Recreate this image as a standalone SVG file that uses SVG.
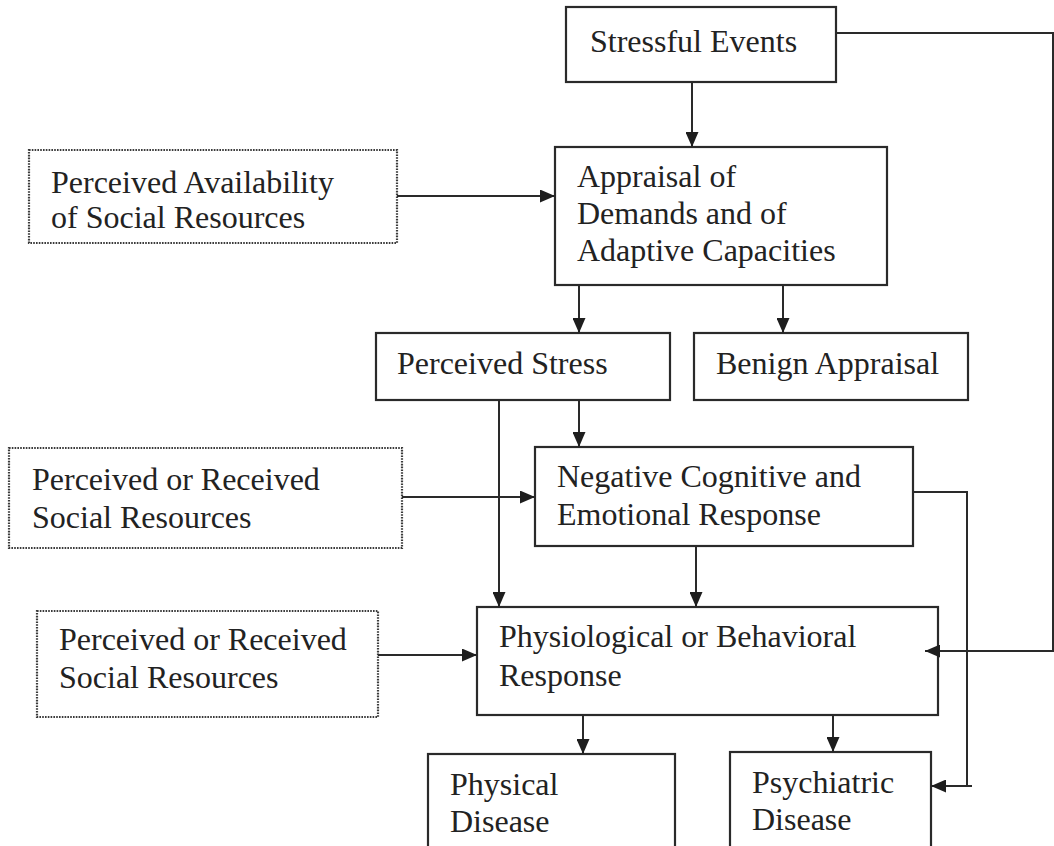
<svg xmlns="http://www.w3.org/2000/svg" width="1054" height="846" viewBox="0 0 1054 846">
<defs>
<style>
.box{fill:#fff;stroke:#2a2a2a;stroke-width:2.2}
.dot{fill:#fff;stroke:#3a3a3a;stroke-width:2.2;stroke-dasharray:1.6 1.2}
.t{font-family:"Liberation Serif","Times New Roman",serif;font-size:32px;fill:#222}
.c{fill:none;stroke:#2a2a2a;stroke-width:2}
</style>
<marker id="ah" viewBox="0 0 15 13" refX="15" refY="6.5" markerWidth="15" markerHeight="13" markerUnits="userSpaceOnUse" orient="auto">
<path d="M0,0 L15,6.5 L0,13 Z" fill="#1e1e1e"/>
</marker>
</defs>
<rect width="1054" height="846" fill="#fff"/>
<g id="stressful-events">
<rect class="box" x="566" y="7" width="270" height="75"/>
<text class="t" x="590" y="52">Stressful Events</text>
</g>
<g id="appraisal">
<rect class="box" x="555" y="147" width="332" height="138"/>
<text class="t" x="577" y="187">Appraisal of</text>
<text class="t" x="577" y="224">Demands and of</text>
<text class="t" x="577" y="261">Adaptive Capacities</text>
</g>
<g id="perceived-availability">
<rect class="dot" x="29" y="150" width="368" height="93"/>
<text class="t" x="51" y="193">Perceived Availability</text>
<text class="t" x="51" y="228">of Social Resources</text>
</g>
<g id="perceived-stress">
<rect class="box" x="376" y="333" width="294" height="67"/>
<text class="t" x="397" y="374">Perceived Stress</text>
</g>
<g id="benign-appraisal">
<rect class="box" x="694" y="333" width="274" height="67"/>
<text class="t" x="716" y="374">Benign Appraisal</text>
</g>
<g id="social-resources-1">
<rect class="dot" x="9" y="448" width="393" height="100"/>
<text class="t" x="32" y="490">Perceived or Received</text>
<text class="t" x="32" y="528">Social Resources</text>
</g>
<g id="negative-response">
<rect class="box" x="535" y="447" width="378" height="99"/>
<text class="t" x="557" y="487">Negative Cognitive and</text>
<text class="t" x="557" y="525">Emotional Response</text>
</g>
<g id="social-resources-2">
<rect class="dot" x="37" y="611" width="341" height="106"/>
<text class="t" x="59" y="650">Perceived or Received</text>
<text class="t" x="59" y="688">Social Resources</text>
</g>
<g id="physiological-response">
<rect class="box" x="477" y="607" width="461" height="108"/>
<text class="t" x="499" y="647">Physiological or Behavioral</text>
<text class="t" x="499" y="686">Response</text>
</g>
<g id="physical-disease">
<rect class="box" x="428" y="754" width="247" height="100"/>
<text class="t" x="450" y="795">Physical</text>
<text class="t" x="450" y="832">Disease</text>
</g>
<g id="psychiatric-disease">
<rect class="box" x="730" y="752" width="201" height="100"/>
<text class="t" x="752" y="793">Psychiatric</text>
<text class="t" x="752" y="830">Disease</text>
</g>
<g id="connectors">
<path class="c" d="M692,82 V147" marker-end="url(#ah)"/>
<path class="c" d="M836,33 H1053 V651 H925" marker-end="url(#ah)"/>
<path class="c" d="M397,196 H555" marker-end="url(#ah)"/>
<path class="c" d="M579,285 V333" marker-end="url(#ah)"/>
<path class="c" d="M783,285 V333" marker-end="url(#ah)"/>
<path class="c" d="M579,400 V447" marker-end="url(#ah)"/>
<path class="c" d="M499,400 V607" marker-end="url(#ah)"/>
<path class="c" d="M402,497 H535" marker-end="url(#ah)"/>
<path class="c" d="M696,546 V607" marker-end="url(#ah)"/>
<path class="c" d="M913,492 H967 V786"/>
<path class="c" d="M972,786 H931" marker-end="url(#ah)"/>
<path class="c" d="M378,655 H477" marker-end="url(#ah)"/>
<path class="c" d="M583,715 V754" marker-end="url(#ah)"/>
<path class="c" d="M833,715 V752" marker-end="url(#ah)"/>
</g>
</svg>
